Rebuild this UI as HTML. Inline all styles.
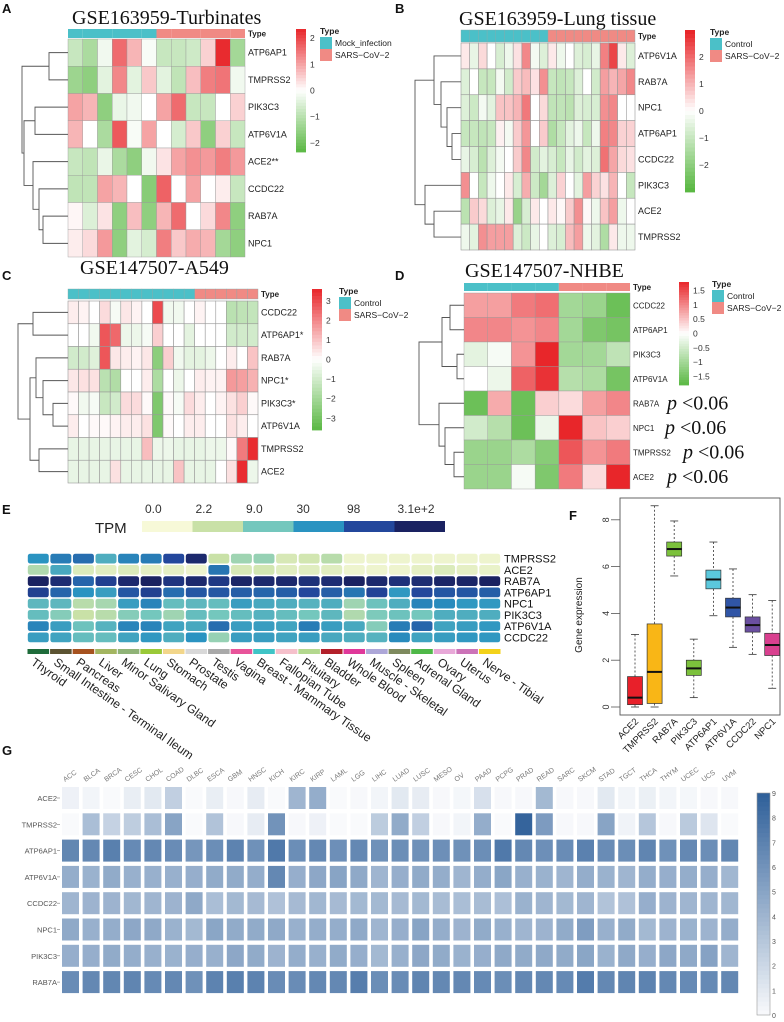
<!DOCTYPE html>
<html><head><meta charset="utf-8">
<style>
html,body{margin:0;padding:0;background:#fff;}
svg{display:block;font-family:"Liberation Sans",sans-serif;}
</style></head>
<body>
<svg id="fig" width="784" height="1022" viewBox="0 0 784 1022" xmlns="http://www.w3.org/2000/svg"></svg>
<script>
// ---------- DATA ----------
const genesA = ["ATP6AP1","TMPRSS2","PIK3C3","ATP6V1A","ACE2**","CCDC22","RAB7A","NPC1"];
const typesA = [0,0,0,0,0,0,1,1,1,1,1,1];
const valsA = [
[-0.8,-1.2,-0.2,1.6,0.8,-0.1,-0.8,-0.8,-0.7,0.5,2.3,-1.3],
[-1.4,-1.6,-0.4,1.3,-0.4,0.6,-0.4,-0.9,0.7,1.4,1.5,-0.2],
[1.0,0.8,-1.6,-0.3,-0.2,0,1.0,1.6,-0.8,-0.8,0,0.5],
[0.8,0,-1.2,1.8,-0.1,1.0,0,-0.6,0.6,-1.6,0.5,-0.8],
[-0.8,-0.9,-0.3,-1.2,-1.6,-0.2,0.3,1.0,1.2,1.1,1.4,1.1],
[-0.9,-0.9,1.0,0.8,0,-1.7,1.7,0,1.0,0,0.2,-0.8],
[0.1,-0.5,0.3,-1.6,0.7,-1.6,0.8,1.6,0,0.4,1.3,-1.6],
[0.2,0.4,1.1,-1.6,-0.4,-0.6,1.4,0.6,0.9,0.8,-1.3,-1.6]];
const genesB = ["ATP6V1A","RAB7A","NPC1","ATP6AP1","CCDC22","PIK3C3","ACE2","TMPRSS2"];
const typesB = [0,0,0,0,0,0,0,0,0,0,1,1,1,1,1,1,1,1,1,1];
const valsB = [
[0.3,-0.4,0.5,0,-0.7,-0.3,0.4,1.6,-0.2,-0.6,0.3,-0.3,0,-0.6,-0.7,-0.4,1.7,2.5,0.3,-0.6],
[-0.6,0,-1,-1,-0.2,-0.8,0.7,0.9,0.4,1.5,-1,-1.1,-1,-0.6,0,-0.8,1.3,1,1.2,1.6],
[-0.6,-0.9,-0.2,-0.5,0.8,0.8,1,1.8,0,0.5,-1.1,-1.1,-1.2,-0.6,-0.7,-0.7,1.5,1.6,0,0],
[-1,-1,-1.1,-1,0.2,-0.2,0.7,1.4,0,0.7,-1.4,-1,-0.5,-0.3,-1,-0.3,1.7,1.6,0.6,0.6],
[-0.4,-0.7,-1.2,-0.6,-0.2,0,0.7,1.6,-0.8,-0.5,-0.7,-1,-0.4,-0.8,-0.5,-0.6,1.9,1.2,0.5,0.4],
[1.5,0,-1,-0.3,0,0.3,-0.7,1.1,-0.9,-1.6,-0.6,0.6,0,-0.5,1.3,0.6,0.4,1,0,-1],
[-1.2,0.7,0.5,-0.6,-0.4,0.3,-1.8,-0.7,0.3,0,0.3,0.1,0.7,1.5,0.1,-0.3,0.8,1.3,-0.3,0],
[-0.3,-0.5,1.5,1.3,1.3,1.3,-0.6,-0.9,-0.4,0,-0.6,-0.7,0.9,1.3,-0.3,-0.5,-1.4,0.3,-0.3,-0.3]];
const genesC = ["CCDC22","ATP6AP1*","RAB7A","NPC1*","PIK3C3*","ATP6V1A","TMPRSS2","ACE2"];
const typesC = [0,0,0,0,0,0,0,0,0,0,0,0,1,1,1,1,1,1];
const valsC = [
[0.3,0.2,0,0.6,-0.2,0.4,0.2,0,3,-0.3,-0.3,0,0.2,0,0,-1.5,-1.4,-1.3],
[0,0,-0.3,2.8,2.5,-0.4,-0.4,-0.2,0.8,0,0,-0.6,0,0,0,-1,-1,-1],
[-1,-1,-0.7,2.8,0.4,0.3,0.2,0.4,-2.5,0.8,-0.3,-0.6,-0.6,-0.4,0,0.3,0,1],
[0.4,0.5,0.5,-1.5,-1.7,0,0,0.3,-1.8,0,-0.4,0,0.3,0.2,0.2,1.7,1.6,1.3],
[0.1,-0.3,-0.2,-1.2,-1,0.6,0.6,0.1,-2.8,0.1,-0.2,0.6,0.3,0,0.2,0.5,0.8,0.1],
[0.3,0,0.1,0.1,0.2,0.3,0.3,0.5,-2.8,0.1,0,0.3,0.3,0,0,0.5,0.3,0],
[-0.5,-0.5,-0.5,-0.5,-0.5,-0.5,-0.5,1.1,-0.4,-0.4,-0.5,-0.5,-0.5,-0.4,-0.4,0.1,2.2,3.5],
[-0.5,-0.5,-0.5,-0.5,0.5,-0.5,-0.5,-0.5,-0.5,-0.5,1,-0.5,-0.5,-0.5,0,0.5,3.5,-0.4]];
const genesD = ["CCDC22","ATP6AP1","PIK3C3","ATP6V1A","RAB7A","NPC1","TMPRSS2","ACE2"];
const typesD = [0,0,0,0,1,1,1];
const valsD = [
[0.8,0.8,1.1,1.2,-1,-1.1,-1.6],
[1,1,0.9,1,-1,-1.4,-1.5],
[-0.3,-0.1,0.9,1.8,-1,-1,-0.7],
[0,-0.2,1.3,1.7,-0.8,-0.9,-1.5],
[-1.6,0.7,-1.6,0.4,0.3,0.8,1],
[-0.5,-0.8,-1.6,-0.2,1.8,0.5,0.4],
[-1.1,-1.1,-0.9,-1.3,1.4,0.9,1.1],
[-1.1,-1.1,-0.1,-1.4,1.1,0.3,1.8]];
const pvalD = ["","","","","p <0.06","p <0.06","p <0.06","p <0.06"];

const tpmTicks = ["0.0","2.2","9.0","30","98","3.1e+2"];
const genesE = ["TMPRSS2","ACE2","RAB7A","ATP6AP1","NPC1","PIK3C3","ATP6V1A","CCDC22"];
const tissuesE = ["Thyroid","Small Intestine - Terminal Ileum","Pancreas","Liver","Minor Salivary Gland","Lung","Stomach","Prostate","Testis","Vagina","Breast - Mammary Tissue","Fallopian Tube","Pituitary","Bladder","Whole Blood","Muscle - Skeletal","Spleen","Adrenal Gland","Ovary","Uterus","Nerve - Tibial"];
const tissueColors = ["#1e6b3a","#5c5332","#a6521f","#a3b560","#8fb377","#9ac938","#f2d68a","#d8d8d8","#a9a9a9","#e8549a","#3fc4c6","#f5c0cb","#b3d88e","#b3202a","#e0389a","#ada7d8","#7e8a5e","#4fb848","#e8a8d8","#cc73b8","#f3d21a"];
const valsE = [
[3,3.3,3.5,2.5,3.2,3.3,4,4.8,1,1.5,1.6,0.7,0.8,1.2,0.2,0.2,0.2,0.2,0.2,0.2,0.2],
[1.3,2.6,0.6,0.5,0.6,0.4,0.4,0.2,3.4,0.7,0.8,0.5,0.5,0.5,0.2,0.2,0.2,0.4,0.6,0.4,0.3],
[5,4.7,3.6,4.2,4.8,5,4.5,4.8,4.4,4.9,4.8,4.8,4.6,4.7,5,4.8,4.6,4.7,4.9,4.9,5],
[4.2,3.6,3,2.8,3.8,4.2,3.5,3.8,3.8,3.7,3.6,3.7,4.0,3.7,3.4,4.1,2.9,4.0,3.8,3.8,3.7],
[2.3,2.3,1.2,1.4,2.8,3.2,2.2,2.3,2.2,2.8,2.6,2.5,2.4,2.5,1.5,2.1,2.5,3.2,3.1,2.9,2.9],
[2.2,1.8,1,1.2,1.8,2,1.5,2.2,2.0,2.2,2.4,2.2,2.0,2.3,1.3,1.9,2.1,2.0,2.5,2.5,2.5],
[3.2,2.8,2.1,2.4,3.2,3.2,2.7,2.6,3.5,2.8,2.8,2.7,3.3,2.8,2.6,1.8,3.3,3.6,2.7,2.8,2.9],
[2.8,2.7,2.2,2.2,2.7,2.9,2.5,3.0,1.6,2.8,2.8,2.7,2.8,2.6,2.5,2.4,3.1,2.7,2.8,2.9,2.9]];

const genesF = ["ACE2","TMPRSS2","RAB7A","PIK3C3","ATP6AP1","ATP6V1A","CCDC22","NPC1"];
const fMin = [0,0,5.6,0.4,3.9,2.55,2.25,0.8];
const fQ1  = [0.1,0.15,6.45,1.35,5.05,3.85,3.2,2.2];
const fMed = [0.4,1.5,6.75,1.65,5.45,4.25,3.5,2.65];
const fQ3  = [1.3,3.55,7.05,2.0,5.85,4.65,3.85,3.15];
const fMax = [3.1,8.6,7.95,2.9,7.05,5.9,4.8,4.55];
const fColors = ["#e8202a","#f9b616","#7cc13c","#7cc13c","#5bc8dc","#3055a6","#6a4fa0","#d9408f"];
const fTicks = [0,2,4,6,8];

const cancersG = ["ACC","BLCA","BRCA","CESC","CHOL","COAD","DLBC","ESCA","GBM","HNSC","KICH","KIRC","KIRP","LAML","LGG","LIHC","LUAD","LUSC","MESO","OV","PAAD","PCPG","PRAD","READ","SARC","SKCM","STAD","TGCT","THCA","THYM","UCEC","UCS","UVM"];
const genesG = ["ACE2","TMPRSS2","ATP6AP1","ATP6V1A","CCDC22","NPC1","PIK3C3","RAB7A"];
const valsG = [
[0.5,0.3,0,0.7,1,2.5,0,0.7,0.1,0.8,0,4,4.5,0,0.1,0.3,1,0.8,0.1,0.2,1.5,0.1,0.1,3.8,0.1,0.1,1,0.3,0.6,0.3,0.2,0.1,0.1],
[0,3.5,2.3,2.6,3.5,5,0,3.2,0.1,0.8,6,0.1,0.5,0,0,2.7,4.6,2.5,0.1,0.3,4.5,0,8.7,5.5,0.1,0.1,5,0.4,3,0.1,2.8,1.2,0],
[6.7,6.6,7.1,6.5,6.6,6.4,5.8,6.3,6.9,6.1,7.5,6.3,6.6,6.2,6.6,6.1,6.3,6.1,6.2,6.1,6.3,7.5,6.6,6.2,6.4,7.0,6.4,6.3,6.8,6.1,6.6,6.3,6.7],
[4.5,4.2,4.6,4.3,4.3,4.3,4.4,4.6,4.6,4.5,6.6,4.4,4.8,5,4.7,4,4.4,4.6,4.5,4,4.5,4.9,4.3,4.2,4,4.5,4.2,4,4.5,4.4,4.5,4.4,3.9],
[4,4.1,4.1,3.9,4,4.1,4.7,3.5,3.8,3.7,3.3,3.7,3.9,3.7,3.8,3.8,3.7,3.8,3.6,3.5,3.6,3.4,4.2,4,3.8,4,3.2,3.3,4.4,4.1,4,4,3.9],
[4.7,4.3,4.5,4.8,4.7,4.2,3.8,4.9,4.6,4.6,4.7,4.3,4.5,4.5,4.7,4,4.4,5,4.5,4.1,4.6,4.3,4,4.1,4.6,5.4,4.3,4.6,3.8,4.1,4.2,4.1,4.5],
[4.4,4.4,4.6,4.5,4.3,4.2,4.4,4.3,4.8,4.6,4.1,4.5,4.3,4.6,4.4,3.8,4.3,4.8,4.6,4.2,4.4,4.7,4.6,4.7,4.6,4.9,4.2,4.7,4.4,4.8,4.7,5.1,4],
[6.4,6.6,6.7,6.8,6.5,6.6,6.1,6.9,7.1,6.9,6.4,6.4,6.6,6.6,7.2,6.3,6.4,6.8,6.6,6.6,6.5,6.3,6.6,6.6,6.5,7.3,6.6,6.8,6.9,6.6,6.5,6.5,6.6]];
const gTicks = [0,1,2,3,4,5,6,7,8,9];

// ---------- HELPERS ----------
const NS="http://www.w3.org/2000/svg";
const svg=document.getElementById('fig');
function mk(tag,attrs,parent,text){const e=document.createElementNS(NS,tag);for(const k in attrs)e.setAttribute(k,attrs[k]);if(text!==undefined)e.textContent=text;(parent||svg).appendChild(e);return e;}
function grp(name){const g=mk('g',{});return g;}
function lerp(a,b,t){return a+(b-a)*t;}
function hex(c){return [parseInt(c.slice(1,3),16),parseInt(c.slice(3,5),16),parseInt(c.slice(5,7),16)];}
function mix(c1,c2,t){const a=hex(c1),b=hex(c2);return 'rgb('+a.map((v,i)=>Math.round(lerp(v,b[i],t))).join(',')+')';}
function divColor(v,m){const t=Math.max(-1,Math.min(1,v/m));return t>=0?mix('#ffffff','#e8262a',t):mix('#ffffff','#5ab843',-t);}
function txt(parent,x,y,s,opts){const o=Object.assign({x:x,y:y,'font-size':9,fill:'#222'},opts||{});return mk('text',o,parent,s);}

function heatmap(cfg){
  const g=grp(cfg.name);
  const nR=cfg.vals.length,nC=cfg.vals[0].length;
  const cw=(cfg.x1-cfg.x0)/nC, rh=(cfg.y1-cfg.y0)/nR;
  const xs=c=>cfg.x0+c*cw, ys=r=>cfg.y0+r*rh;
  cfg.types.forEach((t,c)=>{const r=mk('rect',{x:xs(c),y:cfg.ay0,width:cw,height:cfg.ay1-cfg.ay0,fill:t?'#f08a84':'#4bc0c8',stroke:cfg.grid?'#8aa':'none','stroke-width':0.4},g);
    });
  txt(g,cfg.x1+3,(cfg.ay0+cfg.ay1)/2+3,'Type',{'font-weight':'bold','font-size':8});
  cfg.vals.forEach((row,ri)=>row.forEach((v,ci)=>{
    const r=mk('rect',{x:xs(ci),y:ys(ri),width:cw,height:rh,fill:divColor(v,cfg.m),stroke:'#999','stroke-width':cfg.grid?0.6:0.4},g);
    }));
  cfg.genes.forEach((s,i)=>{const t=txt(g,cfg.x1+3,ys(i)+rh/2+3,s,{'font-size':cfg.fs||9});
    });
  const dg=mk('g',{stroke:'#555','stroke-width':0.9,fill:'none'},g);
  
  function node(n){if(typeof n==='number')return {y:ys(n)+rh/2,x:cfg.x0};
    const a=node(n[0]),b=node(n[1]),x=cfg.x0-n[2];
    mk('path',{d:`M${a.x},${a.y}H${x}V${b.y}H${b.x}`},dg);return {y:(a.y+b.y)/2,x:x};}
  node(cfg.tree);
  const cb=cfg.cb, steps=40, cg=grp('colorbar');g.appendChild(cg);
  for(let i=0;i<steps;i++){const v=cb.vmax-(i+0.5)/steps*(2*cb.vmax);
    mk('rect',{x:cb.x,y:cb.y0+i*(cb.y1-cb.y0)/steps,width:10,height:(cb.y1-cb.y0)/steps+0.4,fill:divColor(v,cfg.m)},cg);}
  const cyv=v=>cb.y0+(cb.vmax-v)/(2*cb.vmax)*(cb.y1-cb.y0);
  cb.ticks.forEach(v=>{txt(cg,cb.x+14,cyv(v)+3,String(v).replace('-','\u2212'),{'font-size':8.5,fill:'#333'});});
  const lg=grp('type-legend');g.appendChild(lg);
  txt(lg,cfg.lx,cb.y0+5,'Type',{'font-weight':'bold','font-size':8.5});
  mk('rect',{x:cfg.lx,y:cb.y0+8,width:12,height:12,fill:'#4bc0c8'},lg);
  mk('rect',{x:cfg.lx,y:cb.y0+20,width:12,height:12,fill:'#f08a84'},lg);
  txt(lg,cfg.lx+15,cb.y0+17,cfg.l0,{'font-size':8.5});
  txt(lg,cfg.lx+15,cb.y0+29,'SARS\u2212CoV\u22122',{'font-size':8.5});
  if(cfg.title){const t=txt(g,cfg.tx,cfg.ty,cfg.title,{'font-family':'"Liberation Serif",serif','font-size':cfg.tfs||20,fill:'#111'});
    }
  return {g,ys,rh};
}
function panelLabel(s,x,y){const t=txt(svg,x,y,s,{'font-weight':'bold','font-size':13,fill:'#111'});
  }

// ---------- PANELS A-D ----------
panelLabel('A',2,13);panelLabel('B',395,13);panelLabel('C',2,280);panelLabel('D',395,280);
heatmap({name:'heatmap-a',vals:valsA,types:typesA,genes:genesA,x0:68,x1:245,ay0:29,ay1:38,y0:39,y1:257,m:2.35,
  tree:[[0,1,19],[[2,3,33],[4,[5,[6,7,25],29],35],44],46],
  cb:{x:296,y0:29,y1:152,vmax:2.35,ticks:[2,1,0,-1,-2]},lx:320,l0:'Mock_infection',
  title:'GSE163959-Turbinates',tx:72,ty:24});
heatmap({name:'heatmap-b',vals:valsB,types:typesB,genes:genesB,x0:461,x1:635,ay0:30,ay1:42,y0:43,y1:250,m:2.9,grid:true,
  tree:[[0,[1,[2,[3,4,9],14],20],27],[5,[6,7,27],36],46],
  cb:{x:685,y0:30,y1:192,vmax:3.0,ticks:[2,1,0,-1,-2]},lx:710,l0:'Control',
  title:'GSE163959-Lung tissue',tx:459,ty:25});
heatmap({name:'heatmap-c',vals:valsC,types:typesC,genes:genesC,x0:68,x1:258,ay0:289,ay1:299,y0:301,y1:483,m:3.6,grid:true,
  tree:[[0,1,35],[[2,[3,[4,5,15],25],32],[6,7,29],38],50],
  cb:{x:312,y0:289,y1:430,vmax:3.6,ticks:[3,2,1,0,-1,-2,-3]},lx:339,l0:'Control',
  title:'GSE147507-A549',tx:80,ty:274});
const hD=heatmap({name:'heatmap-d',vals:valsD,types:typesD,genes:genesD,x0:464,x1:630,ay0:283,ay1:291,y0:293,y1:489,m:1.8,fs:8,
  tree:[[[0,1,14],[2,3,7],22],[4,[5,[6,7,10],19],25],45],
  cb:{x:679,y0:282,y1:385,vmax:1.8,ticks:[1.5,1,0.5,0,-0.5,-1,-1.5]},lx:712,l0:'Control',
  title:'GSE147507-NHBE',tx:465,ty:277});
const pOff=[0,0,0,0,667,665,683,667];
pvalD.forEach((s,i)=>{if(!s)return;const t=mk('text',{x:pOff[i],y:hD.ys(i)+hD.rh/2+6,'font-family':'"Liberation Serif",serif','font-size':20,fill:'#111'},svg);
  mk('tspan',{'font-style':'italic'},t,'p');mk('tspan',{},t,' <0.06');
  });

// ---------- PANEL E ----------
panelLabel('E',2,514);
const eStops=['#f7f9d8','#c9e1a7','#74c7bd','#2a93c1','#23479c','#1a2261'];
function eColor(v){v=Math.max(0,Math.min(5,v));const i=Math.min(4,Math.floor(v));return mix(eStops[i],eStops[i+1],v-i);}
const gE=grp('tpm-heatmap');
const tl=grp('tpm-legend');
txt(tl,95,533,'TPM',{'font-size':15,fill:'#222'});
tpmTicks.forEach((s,i)=>{mk('rect',{x:142+i*50.5,y:521,width:50.5,height:11,fill:eStops[i]},tl);
  txt(tl,142+i*50.5+3,513,s,{'font-size':12,fill:'#333'});});
const eX0=27,eCW=(501-27)/21,eY0=553,eRH=(643-553)/8;
valsE.forEach((row,ri)=>row.forEach((v,ci)=>{const r=mk('rect',{x:eX0+ci*eCW+0.8,y:eY0+ri*eRH+0.7,width:eCW-1.6,height:eRH-1.4,rx:2.5,fill:eColor(v)},gE);
  }));
genesE.forEach((s,i)=>{const t=txt(gE,504,eY0+i*eRH+eRH/2+4,s,{'font-size':11,fill:'#111'});});
tissuesE.forEach((s,i)=>{const cx=eX0+i*eCW+eCW/2;
  mk('rect',{x:eX0+i*eCW+0.5,y:649,width:eCW-1,height:5,fill:tissueColors[i]},gE);
  const t=txt(gE,cx-8,664,s,{'font-size':12,fill:'#222',transform:`rotate(35 ${cx-8} 664)`});
  });

// ---------- PANEL F ----------
panelLabel('F',569,520);
const gF=grp('boxplot');
const fy=v=>707-v*23.4, fx=i=>635+i*19.6, bw=15;
mk('rect',{x:620,y:498,width:160,height:217,fill:'none',stroke:'#555','stroke-width':0.9},gF);
fTicks.forEach(v=>{mk('line',{x1:611,x2:620,y1:fy(v),y2:fy(v),stroke:'#555','stroke-width':0.8},gF);
  txt(gF,606,fy(v)+3,String(v),{'font-size':9,fill:'#333','text-anchor':'middle',transform:`rotate(-90 606 ${fy(v)})`});});
txt(gF,582,615,'Gene expression',{'font-size':10,fill:'#222','text-anchor':'middle',transform:'rotate(-90 582 615)'});
genesF.forEach((s,i)=>{const cx=fx(i);const b=grp('box-'+s.toLowerCase());gF.appendChild(b);
  mk('line',{x1:cx,x2:cx,y1:fy(fMax[i]),y2:fy(fQ3[i]),stroke:'#333','stroke-dasharray':'2,2','stroke-width':0.8},b);
  mk('line',{x1:cx,x2:cx,y1:fy(fQ1[i]),y2:fy(fMin[i]),stroke:'#333','stroke-dasharray':'2,2','stroke-width':0.8},b);
  mk('line',{x1:cx-4,x2:cx+4,y1:fy(fMax[i]),y2:fy(fMax[i]),stroke:'#333','stroke-width':0.8},b);
  mk('line',{x1:cx-4,x2:cx+4,y1:fy(fMin[i]),y2:fy(fMin[i]),stroke:'#333','stroke-width':0.8},b);
  mk('rect',{x:cx-bw/2,y:fy(fQ3[i]),width:bw,height:fy(fQ1[i])-fy(fQ3[i]),fill:fColors[i],stroke:'#333','stroke-width':0.7},b);
  mk('line',{x1:cx-bw/2,x2:cx+bw/2,y1:fy(fMed[i]),y2:fy(fMed[i]),stroke:'#111','stroke-width':2},b);
  const t=txt(gF,cx+4,722,s,{'font-size':9.5,fill:'#222','text-anchor':'end',transform:`rotate(-45 ${cx+4} 722)`});
  });

// ---------- PANEL G ----------
panelLabel('G',2,755);
const gG=grp('pan-cancer-heatmap');
const gX0=62,gPX=20.6,gCW=17,gY0=787,gPY=26.3,gRH=22;
function gColor(v){return mix('#f9fafc','#2e5f99',Math.max(0,Math.min(1,v/9)));}
valsG.forEach((row,ri)=>row.forEach((v,ci)=>{const r=mk('rect',{x:gX0+ci*gPX,y:gY0+ri*gPY,width:gCW,height:gRH,fill:gColor(v)},gG);
  }));
genesG.forEach((s,i)=>{const y=gY0+i*gPY+gRH/2;const t=txt(gG,57,y+3,s,{'font-size':7.5,fill:'#555','text-anchor':'end'});
  mk('line',{x1:57,x2:60,y1:y,y2:y,stroke:'#777','stroke-width':0.6},gG);
  });
cancersG.forEach((s,i)=>{const x=gX0+i*gPX+3,y=782;const t=txt(gG,x,y,s,{'font-size':7,fill:'#777',transform:`rotate(-35 ${x} ${y})`});
  });
const gcb=grp('expression-colorbar');
for(let i=0;i<50;i++){const v=9-(i+0.5)/50*9;mk('rect',{x:757,y:793+i*222/50,width:13,height:222/50+0.4,fill:gColor(v)},gcb);}
mk('rect',{x:757,y:793,width:13,height:222,fill:'none',stroke:'#999','stroke-width':0.6},gcb);
gTicks.forEach(v=>{const y=1015-v*222/9;txt(gcb,772,y+3,String(v),{'font-size':7,fill:'#555'});});
</script>
</body></html>
